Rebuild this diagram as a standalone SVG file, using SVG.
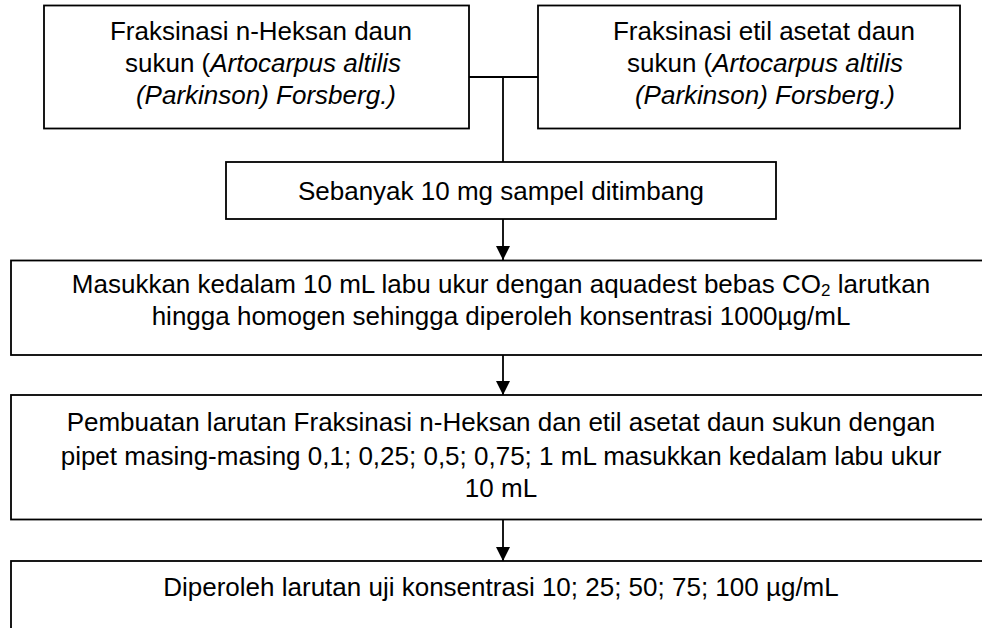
<svg xmlns="http://www.w3.org/2000/svg" width="982" height="628" viewBox="0 0 982 628">
<defs>
<style>
.box{fill:#fff;stroke:#000;stroke-width:1.8}
.t{font-family:"Liberation Sans",Arial,sans-serif;font-size:26px;fill:#000;text-anchor:middle}
.i{font-style:italic}
.ln{stroke:#000;stroke-width:1.8;fill:none}
</style>
<marker id="ah" markerWidth="14" markerHeight="16" refX="14" refY="7" orient="auto" markerUnits="userSpaceOnUse">
<path d="M0,0 L14,7 L0,14 Z" fill="#000"/>
</marker>
</defs>
<rect width="982" height="628" fill="#fff"/>
<g id="connectors">
<path class="ln" d="M469,77 H538"/>
<path class="ln" d="M503,77 V162"/>
<path class="ln" d="M503,219 V260" marker-end="url(#ah)"/>
<path class="ln" d="M503,355 V395" marker-end="url(#ah)"/>
<path class="ln" d="M503,519.5 V561" marker-end="url(#ah)"/>
</g>
<g id="node1">
<rect class="box" x="44" y="5.5" width="425" height="123"/>
<text class="t" x="261" y="40">Fraksinasi n-Heksan daun</text>
<text class="t" x="263" y="72">sukun (<tspan class="i">Artocarpus altilis</tspan></text>
<text class="t i" x="266" y="104">(Parkinson) Forsberg.)</text>
</g>
<g id="node2">
<rect class="box" x="538" y="5.5" width="422" height="123"/>
<text class="t" x="764" y="40">Fraksinasi etil asetat daun</text>
<text class="t" x="765" y="72">sukun (<tspan class="i">Artocarpus altilis</tspan></text>
<text class="t i" x="765" y="104">(Parkinson) Forsberg.)</text>
</g>
<g id="node3">
<rect class="box" x="226" y="162" width="550" height="57"/>
<text class="t" x="501" y="200">Sebanyak 10 mg sampel ditimbang</text>
</g>
<g id="node4">
<rect class="box" x="11" y="260.5" width="980" height="94.5"/>
<text class="t" x="501" y="293">Masukkan kedalam 10 mL labu ukur dengan aquadest bebas CO<tspan font-size="17" dy="3">2</tspan><tspan dy="-3"> larutkan</tspan></text>
<text class="t" x="501" y="325">hingga homogen sehingga diperoleh konsentrasi 1000µg/mL</text>
</g>
<g id="node5">
<rect class="box" x="11" y="395" width="980" height="124.5"/>
<text class="t" x="501" y="431">Pembuatan larutan Fraksinasi n-Heksan dan etil asetat daun sukun dengan</text>
<text class="t" x="501" y="465">pipet masing-masing 0,1; 0,25; 0,5; 0,75; 1 mL masukkan kedalam labu ukur</text>
<text class="t" x="501" y="497">10 mL</text>
</g>
<g id="node6">
<rect class="box" x="11" y="561" width="980" height="80"/>
<text class="t" x="501" y="596">Diperoleh larutan uji konsentrasi 10; 25; 50; 75; 100 µg/mL</text>
</g>
</svg>
